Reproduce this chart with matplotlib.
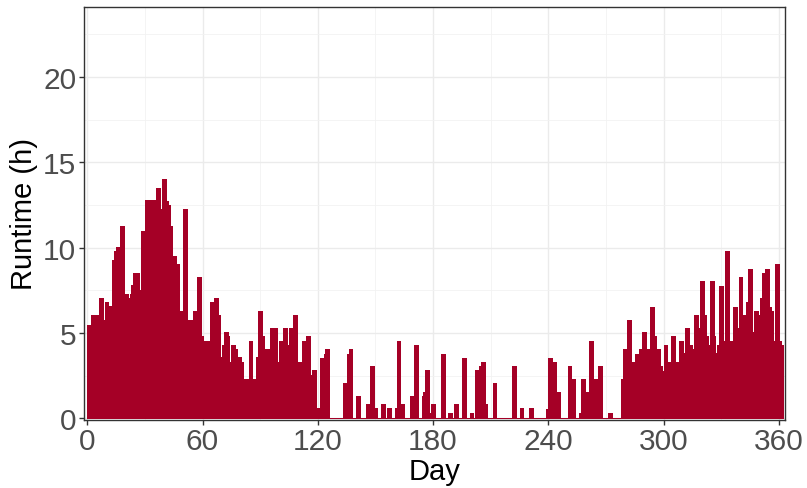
import numpy as np
import matplotlib
matplotlib.use("Agg")
import matplotlib.pyplot as plt
from matplotlib.ticker import MultipleLocator

# Daily runtime in hours, day 0 .. 361
runtime = [
    5.5, 5.5, 6.06, 6.06, 6.06, 6.06, 7.04, 7.04, 5.79, 6.8,
    6.8, 6.57, 6.57, 9.3, 9.8, 10.03, 10.03, 11.26, 11.26, 7.3,
    7.3, 7.04, 7.3, 7.8, 8.54, 8.54, 8.54, 7.55, 11.0, 11.0,
    12.78, 12.78, 12.78, 12.78, 12.78, 12.78, 13.5, 13.5, 12.27, 14.0,
    14.0, 12.76, 12.5, 11.26, 9.54, 9.54, 9.03, 9.03, 6.28, 6.28,
    12.27, 12.27, 5.79, 5.79, 5.79, 6.28, 6.28, 8.29, 8.29, 4.81,
    4.55, 4.55, 4.55, 4.55, 6.8, 6.8, 7.04, 7.04, 6.06, 3.58,
    4.3, 5.04, 5.04, 4.81, 3.33, 4.3, 4.3, 4.06, 3.58, 3.58,
    3.33, 2.31, 2.31, 2.31, 4.55, 4.55, 2.31, 2.31, 3.58, 6.28,
    6.28, 4.81, 4.06, 4.06, 4.06, 5.3, 5.3, 5.3, 5.3, 3.33,
    4.55, 4.55, 5.3, 5.3, 4.3, 5.3, 5.3, 6.06, 6.06, 3.33,
    3.33, 2.82, 4.55, 4.55, 4.81, 4.81, 2.55, 2.82, 2.82, 0.6,
    0.6, 3.56, 3.56, 3.8, 4.05, 4.05, 0, 0, 0, 0,
    0, 0, 0, 2.06, 2.06, 3.8, 4.05, 4.05, 0, 0,
    1.31, 1.31, 0, 0, 0, 0.82, 0.82, 3.05, 3.05, 0.6,
    0.6, 0, 0, 0.82, 0.82, 0, 0.6, 0.6, 0, 0,
    0.6, 4.56, 4.56, 0.82, 0.82, 0, 0, 0, 1.31, 1.31,
    4.3, 4.3, 0, 0, 1.31, 1.57, 2.82, 2.82, 0.3, 0.82,
    0.82, 0, 0, 0, 3.8, 3.8, 0, 0, 0.3, 0.3,
    0, 0.82, 0.82, 0, 0, 3.56, 3.56, 0, 0, 0.3,
    0.3, 0, 2.82, 2.82, 3.05, 3.3, 3.3, 0.82, 0, 0,
    0, 2.06, 2.06, 0, 0, 0, 0, 0, 0, 0,
    0, 3.05, 3.05, 0, 0, 0.6, 0.6, 0, 0, 0,
    0.6, 0.6, 0, 0, 0, 0, 0, 0, 0, 0.55,
    3.56, 3.56, 3.3, 3.3, 1.57, 1.57, 0, 0, 0, 0,
    3.05, 3.05, 2.31, 2.31, 0, 0, 0.3, 2.31, 2.31, 1.57,
    1.57, 4.56, 4.56, 1.06, 2.31, 2.31, 3.05, 3.05, 0, 0,
    0, 0.3, 0.3, 0, 0, 0, 0, 0, 2.31, 4.05,
    4.05, 5.79, 5.79, 3.3, 3.3, 3.8, 3.8, 4.05, 4.05, 5.05,
    5.05, 4.05, 4.05, 6.55, 6.55, 4.81, 4.07, 4.07, 3.09, 2.8,
    4.3, 4.3, 3.33, 3.33, 4.81, 4.81, 3.33, 3.33, 4.55, 4.55,
    3.81, 5.3, 5.3, 4.3, 4.3, 4.07, 6.06, 6.06, 5.3, 8.04,
    8.04, 6.06, 4.81, 4.3, 8.04, 8.04, 4.81, 3.81, 4.3, 7.78,
    7.78, 4.55, 9.79, 9.79, 4.55, 4.55, 6.55, 6.55, 5.3, 8.29,
    8.29, 6.06, 6.06, 6.8, 8.78, 8.78, 5.05, 6.3, 6.3, 6.06,
    7.04, 8.54, 8.54, 8.78, 8.78, 6.55, 6.3, 4.55, 9.03, 9.03,
    4.55, 4.3,
]
day = np.arange(len(runtime))

x_ticks = [0, 60, 120, 180, 240, 300, 360]
y_ticks = [0, 5, 10, 15, 20]

fill = "#A50026"
font = "Liberation Sans"

fig = plt.figure(figsize=(8.07, 4.89), dpi=100)
ax = fig.add_axes([84 / 807, (489 - 421) / 489, 701 / 807, 413 / 489])

ax.bar(day, runtime, width=1.0, align="edge", color=fill,
       edgecolor=fill, linewidth=0.5, antialiased=False, zorder=3)

ax.set_xlim(-1.7, 363.2)
ax.set_ylim(-0.09, 24.1)

ax.set_xticks(x_ticks)
ax.set_yticks(y_ticks)
ax.xaxis.set_minor_locator(MultipleLocator(30))
ax.yaxis.set_minor_locator(MultipleLocator(2.5))

ax.grid(which="major", color="#EBEBEB", linewidth=1.0, zorder=0)
ax.grid(which="minor", color="#F2F2F2", linewidth=0.6, zorder=0)
ax.set_axisbelow(True)

for s in ax.spines.values():
    s.set_color("#333333")
    s.set_linewidth(1.0)

ax.tick_params(which="major", length=3.5, width=1.0, color="#333333",
               labelsize=21.5, labelcolor="#4D4D4D")
ax.tick_params(axis="x", which="major", pad=1.5)
ax.tick_params(axis="y", which="major", pad=2)
ax.tick_params(which="minor", length=0)
for lab in ax.get_xticklabels() + ax.get_yticklabels():
    lab.set_family(font)

ax.set_xlabel("Day", fontsize=21, family=font, color="black", labelpad=1.5)
ax.set_ylabel("Runtime (h)", fontsize=21, family=font, color="black",
              labelpad=4)

fig.savefig("out.png", dpi=100)
